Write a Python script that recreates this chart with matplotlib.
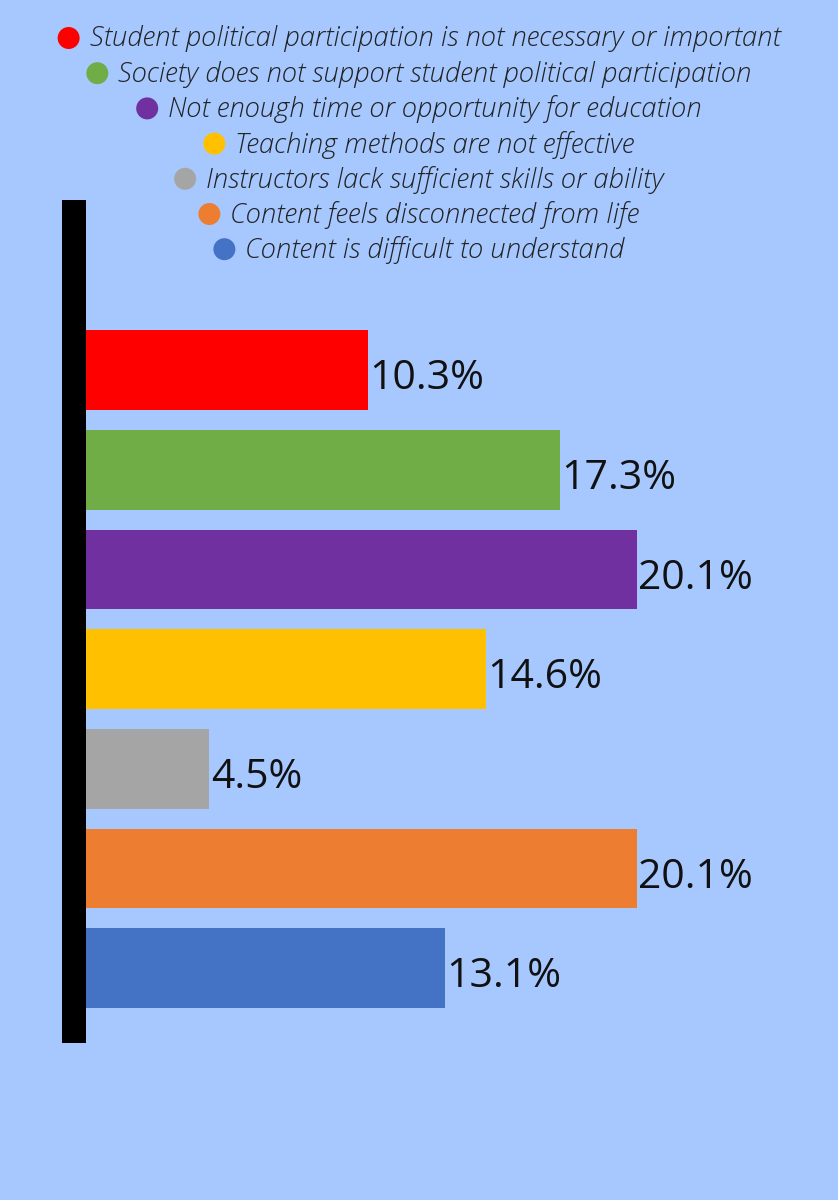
import matplotlib.pyplot as plt

categories = [
    "Student political participation is not necessary or important",
    "Society does not support student political participation",
    "Not enough time or opportunity for education",
    "Teaching methods are not effective",
    "Instructors lack sufficient skills or ability",
    "Content feels disconnected from life",
    "Content is difficult to understand",
]
values = [10.3, 17.3, 20.1, 14.6, 4.5, 20.1, 13.1]
colors = ["#FF0000", "#70AD47", "#7030A0", "#FFC000", "#A5A5A5", "#ED7D31", "#4472C4"]

BG = "#A6C8FF"
W, H, DPI = 838, 1200, 100

fig = plt.figure(figsize=(W / DPI, H / DPI), dpi=DPI, facecolor=BG)

# bar axes: left edge at x=86px, spans 200..1043px vertically
ax = fig.add_axes([86 / W, 1 - 1043 / H, (W - 86) / W, (1043 - 200) / H])
ax.set_facecolor("none")
ypos = list(range(len(values)))
ax.barh(ypos, values, height=0.8, color=colors)
ax.set_xlim(0, (W - 86) / 27.4)
ax.set_ylim(6.75, -1.705)
for y, v in zip(ypos, values):
    ax.text(v + 0.05, y + 0.09, f"{v}%", va="center", ha="left",
            fontsize=29.5, family="Open Sans", color="#111111")

for s in ["top", "right", "bottom"]:
    ax.spines[s].set_visible(False)
left = ax.spines["left"]
left.set_linewidth(24 * 72 / DPI)
left.set_color("black")
left.set_capstyle("butt")
left.set_position(("outward", 12 * 72 / DPI))
ax.set_xticks([])
ax.set_yticks([])

# legend: centred rows with a dot to the left of each text
lax = fig.add_axes([0, 0, 1, 1])
lax.set_xlim(0, W)
lax.set_ylim(H, 0)
lax.axis("off")
texts = []
for i, lab in enumerate(categories):
    t = lax.text(435, 39 + 35.2 * i, lab, ha="center", va="center",
                 fontsize=19.8, family="Open Sans", style="italic", weight=300,
                 color="#222222")
    texts.append(t)

fig.canvas.draw()
renderer = fig.canvas.get_renderer()
inv = lax.transData.inverted()
for t, c, i in zip(texts, colors, range(len(texts))):
    bb = t.get_window_extent(renderer)
    x0, _ = inv.transform((bb.x0, bb.y0))
    lax.scatter([x0 - 21], [38 + 35.2 * i], s=(22 * 72 / DPI) ** 2, color=c,
                edgecolors="none")

fig.savefig("out.png", dpi=DPI, facecolor=BG)
